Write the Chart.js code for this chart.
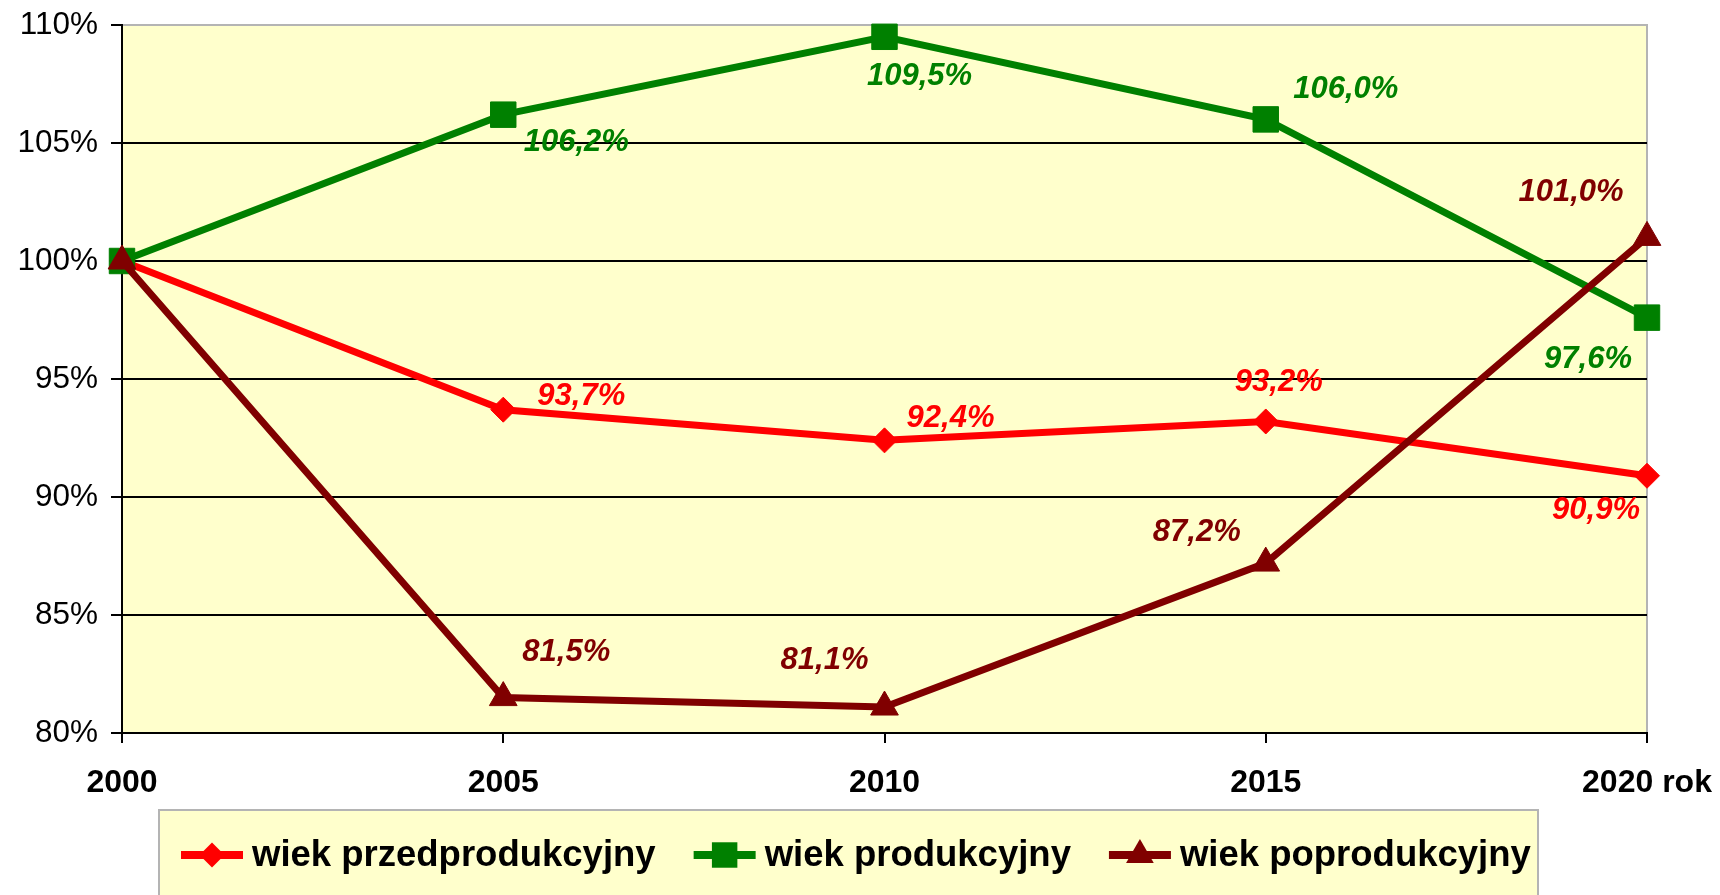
<!DOCTYPE html>
<html>
<head>
<meta charset="utf-8">
<script src="https://cdn.jsdelivr.net/npm/chart.js@4.4.1/dist/chart.umd.min.js"></script>
<style>
  body { margin: 0; background: #fff; }
  canvas { display: block; }
</style>
</head>
<body>
<canvas id="chart" width="1720" height="895"></canvas>
<script>
const years = ['2000', '2005', '2010', '2015', '2020 rok'];
const seriesNames = ['wiek przedprodukcyjny', 'wiek produkcyjny', 'wiek poprodukcyjny'];
const przed = [100, 93.7, 92.4, 93.2, 90.9];
const prod = [100, 106.2, 109.5, 106.0, 97.6];
const popro = [100, 81.5, 81.1, 87.2, 101.0];
const yTicks = [80, 85, 90, 95, 100, 105, 110];

// label offsets from each point (null = no label)
const labelOffsets = [
  [null, [78, -13], [66, -22], [13, -39], [-51, 35]],
  [null, [73, 28], [35, 40], [80, -30], [-59, 42]],
  [null, [63, -45], [-60, -47], [-69, -31], [-76, -45]]
];

const FONT = '"Liberation Sans", Arial, sans-serif';
const colors = ['#ff0000', '#008000', '#800000'];
const styles = ['rectRot', 'rect', 'triangle'];
const radii = [12.5, 18, 16];

function fmt(v) {
  return v.toFixed(1).replace('.', ',') + '%';
}

const plotBg = {
  id: 'plotBg',
  beforeDraw(chart) {
    const { ctx, chartArea: a } = chart;
    ctx.save();
    ctx.fillStyle = '#ffffcc';
    ctx.fillRect(a.left, a.top, a.right - a.left, a.bottom - a.top);
    ctx.strokeStyle = '#b4b4b4';
    ctx.lineWidth = 2;
    ctx.beginPath();
    ctx.moveTo(a.left, a.top);
    ctx.lineTo(a.right, a.top);
    ctx.lineTo(a.right, a.bottom);
    ctx.stroke();
    ctx.restore();
  }
};

const valueLabels = {
  id: 'valueLabels',
  afterDatasetsDraw(chart) {
    const ctx = chart.ctx;
    ctx.save();
    ctx.font = 'italic bold 31px ' + FONT;
    ctx.textAlign = 'center';
    ctx.textBaseline = 'middle';
    chart.data.datasets.forEach((ds, i) => {
      const meta = chart.getDatasetMeta(i);
      meta.data.forEach((pt, j) => {
        const off = labelOffsets[i][j];
        if (!off) return;
        ctx.fillStyle = colors[i];
        ctx.fillText(fmt(ds.data[j]), pt.x + off[0], pt.y + off[1]);
      });
    });
    ctx.restore();
  }
};

const boxLegend = {
  id: 'boxLegend',
  afterDraw(chart) {
    const ctx = chart.ctx;
    const box = { x: 159, y: 810, w: 1379, h: 100 };
    ctx.save();
    ctx.fillStyle = '#ffffcc';
    ctx.fillRect(box.x, box.y, box.w, box.h);
    ctx.strokeStyle = '#b4b4b4';
    ctx.lineWidth = 2;
    ctx.strokeRect(box.x, box.y, box.w, box.h);

    ctx.font = 'bold 36.5px ' + FONT;
    ctx.textBaseline = 'middle';
    const sample = 62, gapText = 9, gapItem = 38;
    let x = 181;
    const cy = 855;
    seriesNames.forEach((name, i) => {
      ctx.strokeStyle = colors[i];
      ctx.lineWidth = 8;
      ctx.beginPath();
      ctx.moveTo(x, cy);
      ctx.lineTo(x + sample, cy);
      ctx.stroke();
      ctx.fillStyle = colors[i];
      Chart.helpers.drawPoint(ctx, { pointStyle: styles[i], radius: radii[i], rotation: 0, borderWidth: 0 }, x + sample / 2, cy);
      ctx.fillStyle = '#000';
      ctx.fillText(name, x + sample + gapText, cy + 1);
      x += sample + gapText + ctx.measureText(name).width + gapItem;
    });
    ctx.restore();
  }
};

function makeSet(i, data) {
  return {
    label: seriesNames[i],
    data: data,
    borderColor: colors[i],
    backgroundColor: colors[i],
    borderWidth: 7,
    pointStyle: styles[i],
    pointRadius: radii[i],
    pointHoverRadius: radii[i],
    pointBackgroundColor: colors[i],
    pointBorderColor: colors[i],
    pointBorderWidth: 1,
    tension: 0,
    clip: false,
    order: 3 - i
  };
}

new Chart(document.getElementById('chart'), {
  type: 'line',
  data: {
    labels: years,
    datasets: [makeSet(0, przed), makeSet(1, prod), makeSet(2, popro)]
  },
  options: {
    responsive: false,
    animation: false,
    devicePixelRatio: 1,
    layout: { padding: { top: 25, right: 73, left: 0, bottom: 0 } },
    plugins: {
      legend: { display: false },
      tooltip: { enabled: false }
    },
    scales: {
      x: {
        offset: false,
        afterFit(scale) {
          scale.height = 162;
          scale.paddingLeft = 0;
          scale.paddingRight = 0;
        },
        border: { color: '#000', width: 2 },
        grid: { drawOnChartArea: false, color: '#000', tickLength: 10, lineWidth: 2 },
        ticks: {
          color: '#000',
          padding: 21,
          maxRotation: 0,
          font: { family: FONT, size: 32, weight: 'bold' }
        }
      },
      y: {
        min: 80,
        max: 110,
        afterFit(scale) {
          scale.width = 122;
          scale.paddingTop = 0;
          scale.paddingBottom = 0;
        },
        afterBuildTicks(scale) { scale.ticks = yTicks.map(v => ({ value: v })); },
        border: { color: '#000', width: 2 },
        grid: {
          color: ctx => (ctx.tick && ctx.tick.value === 110 ? '#b4b4b4' : '#000'),
          tickColor: '#000',
          lineWidth: 2,
          tickLength: 11
        },
        ticks: {
          color: '#000',
          padding: 13,
          font: { family: FONT, size: 31.5 },
          callback: v => v + '%'
        }
      }
    }
  },
  plugins: [plotBg, valueLabels, boxLegend]
});
</script>
</body>
</html>
